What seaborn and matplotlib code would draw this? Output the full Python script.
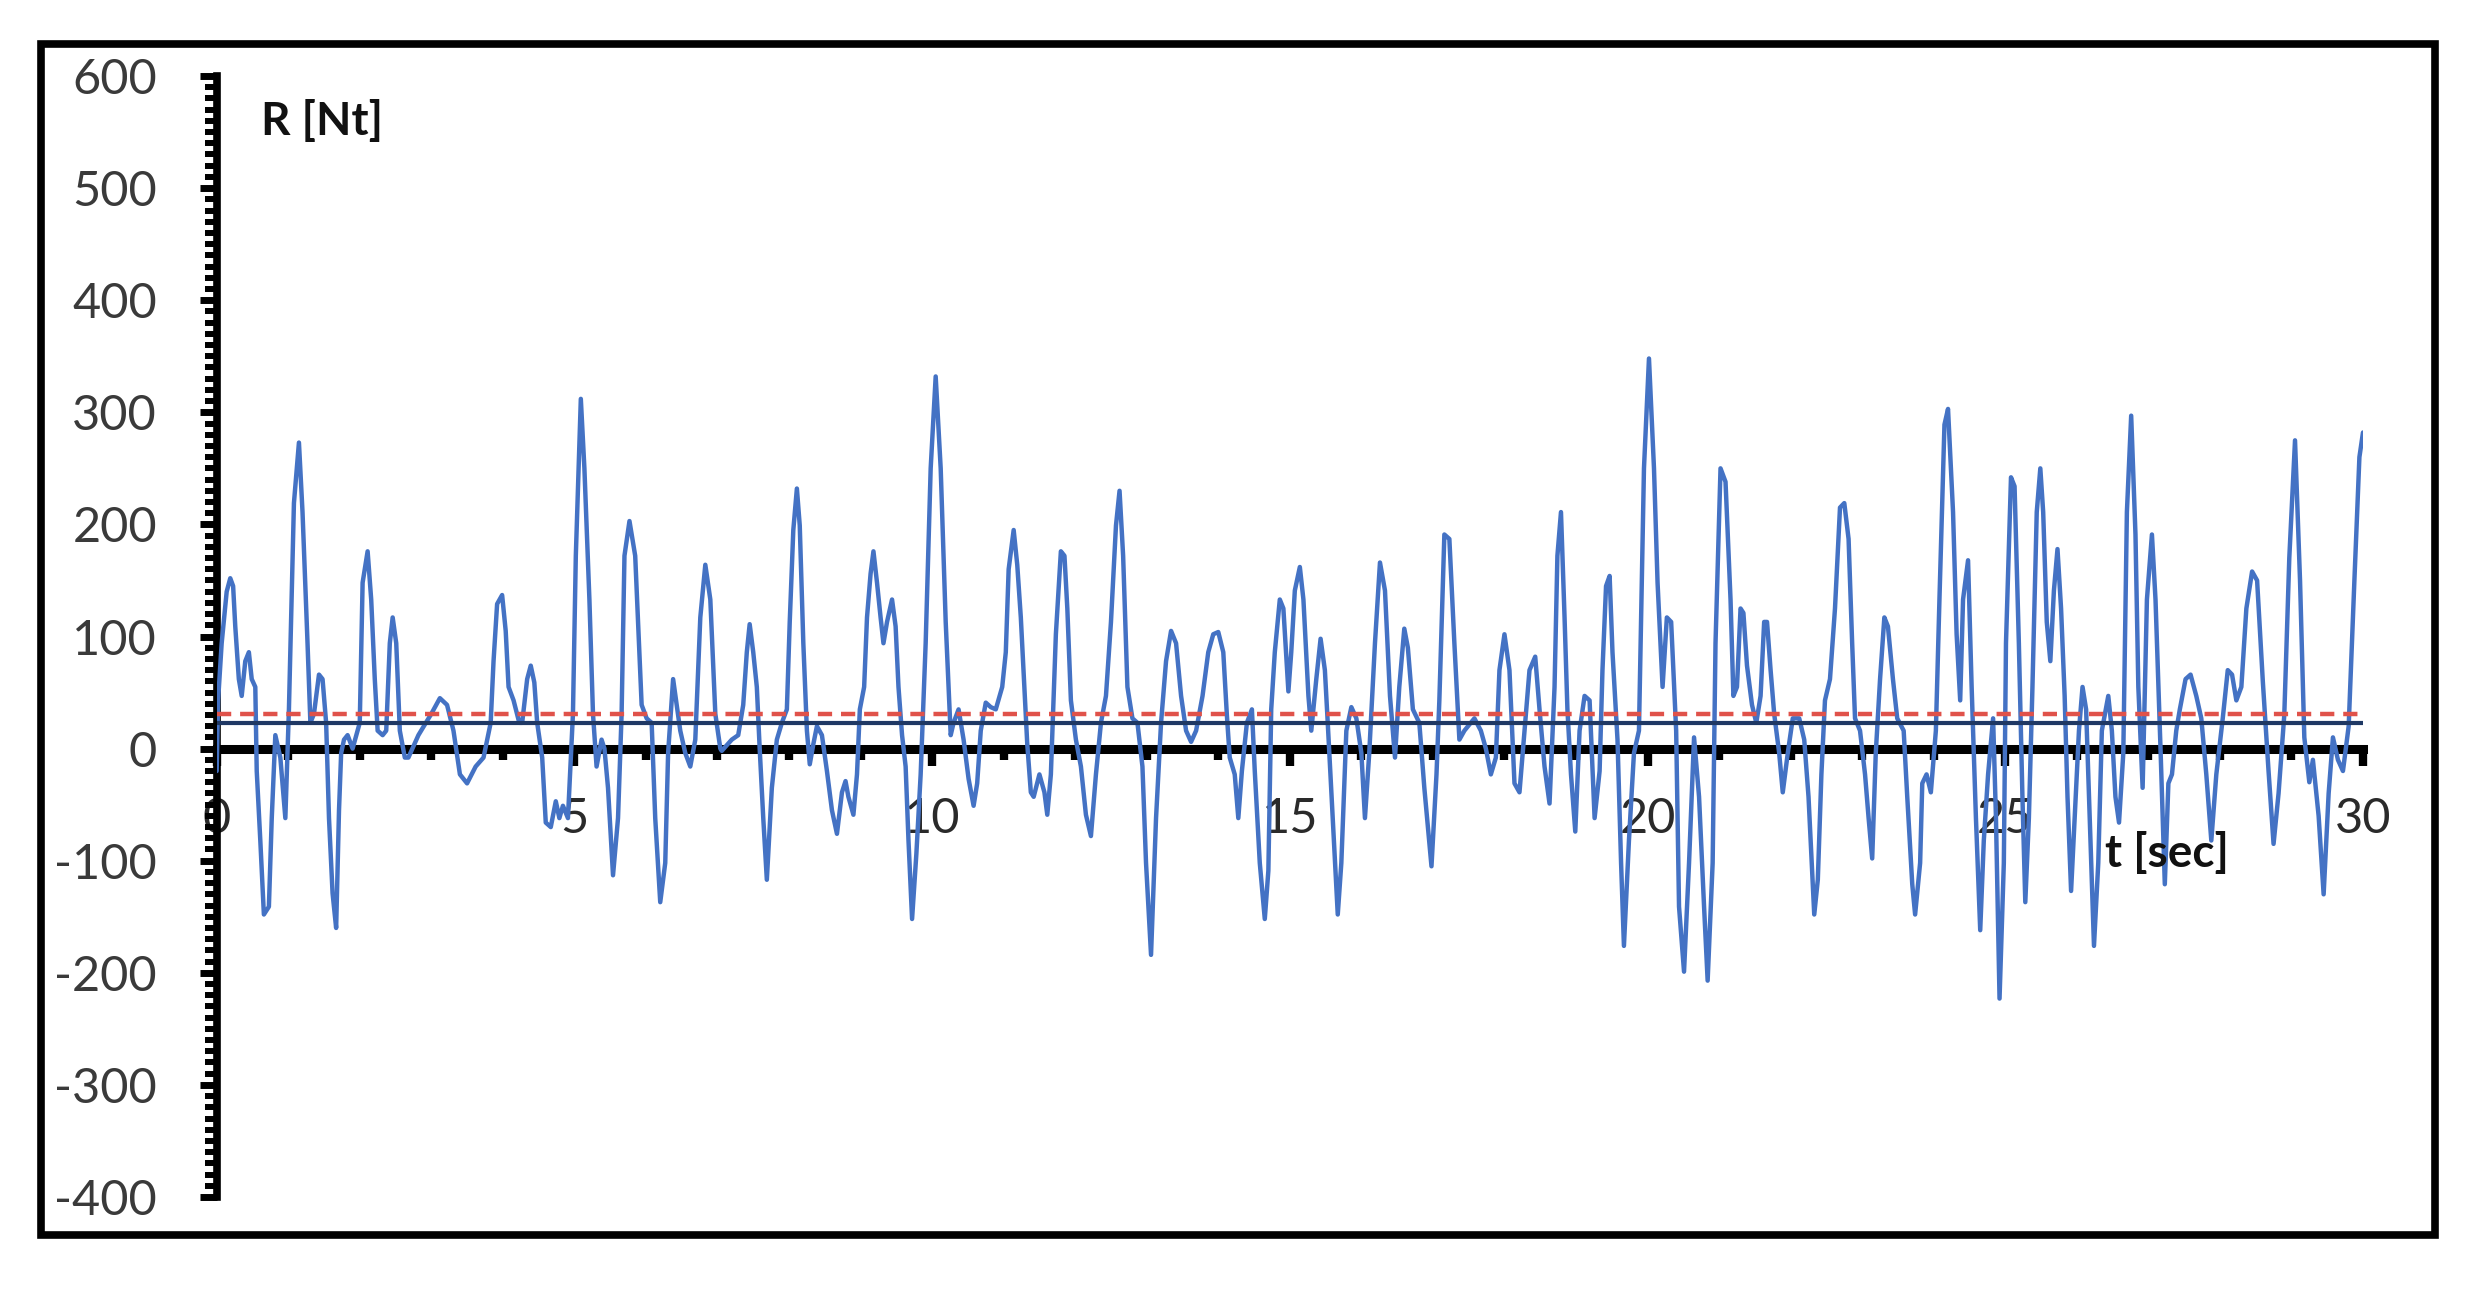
import pandas as pd
import seaborn as sns
import matplotlib.pyplot as plt
from matplotlib.patches import Rectangle
from matplotlib.ticker import MultipleLocator

# time [sec] and reaction force R [Nt]
time_a = [0.00, 0.02, 0.07, 0.14, 0.19, 0.23, 0.26, 0.31, 0.35, 0.40,
          0.45, 0.49, 0.54, 0.56, 0.61, 0.66, 0.73, 0.77, 0.82, 0.89,
          0.96, 1.01, 1.08, 1.15, 1.20, 1.27, 1.31, 1.36, 1.43, 1.48,
          1.53, 1.57, 1.62, 1.67, 1.71, 1.74, 1.78, 1.83, 1.90, 2.00,
          2.04, 2.11, 2.16, 2.21, 2.25, 2.32, 2.37, 2.42, 2.46, 2.51,
          2.56, 2.63, 2.68, 2.82, 3.00, 3.12, 3.22, 3.31, 3.40, 3.50,
          3.62, 3.73, 3.83, 3.87, 3.92, 3.99, 4.04, 4.08, 4.15, 4.23,
          4.27, 4.34, 4.39, 4.44, 4.48, 4.55, 4.60, 4.67, 4.74, 4.79,
          4.84, 4.91, 4.98, 5.02, 5.09, 5.14, 5.21, 5.26, 5.31, 5.38,
          5.42, 5.47, 5.54, 5.61, 5.66, 5.70, 5.77, 5.85, 5.89, 5.94,
          6.01, 6.08, 6.13, 6.20, 6.27, 6.31, 6.38, 6.43, 6.48, 6.55,
          6.62, 6.69, 6.76, 6.83, 6.90, 6.97, 7.04]
force_a = [-20, 43, 94, 140, 152, 145, 109, 62, 47, 78,
           86, 62, 55, -20, -82, -148, -141, -62, 12, -8,
           -62, 35, 219, 273, 211, 94, 23, 31, 66, 62,
           23, -62, -129, -160, -55, -4, 8, 12, 0, 23,
           148, 176, 133, 62, 16, 12, 16, 94, 117, 94,
           16, -8, -8, 12, 31, 45, 39, 16, -23, -31,
           -16, -8, 23, 78, 129, 137, 105, 55, 43, 23,
           23, 62, 74, 59, 23, -8, -66, -70, -47, -62,
           -51, -62, 31, 172, 312, 250, 133, 31, -16, 8,
           0, -35, -113, -62, 31, 172, 203, 172, 113, 39,
           27, 23, -62, -137, -102, -4, 62, 39, 16, -4,
           -16, 8, 117, 164, 133, 31, 0]

time_b = [7.06, 7.20, 7.29, 7.36, 7.41, 7.45, 7.50, 7.55, 7.59, 7.64,
          7.69, 7.76, 7.83, 7.90, 7.97, 8.01, 8.06, 8.11, 8.15, 8.20,
          8.25, 8.29, 8.34, 8.39, 8.46, 8.53, 8.60, 8.67, 8.74, 8.79,
          8.83, 8.90, 8.95, 8.99, 9.05, 9.09, 9.14, 9.18, 9.23, 9.28,
          9.32, 9.37, 9.44, 9.49, 9.53, 9.58, 9.63, 9.67, 9.72, 9.78,
          9.84, 9.91, 9.98, 10.05, 10.12, 10.19, 10.26, 10.30, 10.37, 10.44,
          10.51, 10.58, 10.63, 10.68, 10.75, 10.82, 10.89, 10.98, 11.03, 11.07,
          11.14, 11.19, 11.24, 11.29, 11.33, 11.38, 11.42, 11.50, 11.57, 11.61,
          11.66, 11.73, 11.80, 11.85, 11.89, 11.94, 12.01, 12.08, 12.15, 12.22,
          12.29, 12.36, 12.43, 12.50, 12.57, 12.62, 12.67, 12.73, 12.80, 12.87,
          12.94, 12.99, 13.06, 13.13, 13.20, 13.27, 13.34, 13.41, 13.48, 13.55,
          13.62, 13.69, 13.78, 13.86, 13.93, 14.00, 14.07, 14.12]
force_b = [-2, 8, 12, 39, 86, 111, 86, 55, 0, -62,
           -117, -35, 8, 23, 35, 113, 195, 232, 199, 94,
           16, -14, 4, 20, 12, -20, -55, -76, -39, -29,
           -43, -59, -23, 35, 55, 117, 156, 176, 148, 117,
           94, 113, 133, 109, 55, 12, -16, -82, -152, -94,
           -23, 94, 250, 332, 250, 113, 12, 23, 35, 8,
           -27, -51, -31, 16, 41, 37, 35, 55, 86, 160,
           195, 164, 117, 55, 4, -39, -43, -23, -39, -59,
           -23, 102, 176, 172, 125, 43, 8, -16, -59, -78,
           -23, 23, 47, 113, 199, 230, 172, 55, 27, 23,
           -16, -102, -184, -62, 23, 78, 105, 94, 47, 16,
           6, 16, 47, 86, 102, 104, 86, 30]

time_c = [14.16, 14.23, 14.28, 14.33, 14.40, 14.47, 14.51, 14.58, 14.65, 14.70,
          14.74, 14.79, 14.86, 14.91, 14.98, 15.02, 15.07, 15.14, 15.19, 15.26,
          15.30, 15.37, 15.43, 15.49, 15.53, 15.60, 15.67, 15.72, 15.79, 15.86,
          15.93, 16.00, 16.05, 16.11, 16.19, 16.26, 16.33, 16.40, 16.47, 16.53,
          16.60, 16.65, 16.72, 16.81, 16.88, 16.98, 17.05, 17.09, 17.16, 17.23,
          17.30, 17.37, 17.44, 17.58, 17.67, 17.74, 17.81, 17.88, 17.93, 18.00,
          18.07, 18.14, 18.21, 18.28, 18.35, 18.43, 18.49, 18.56, 18.63, 18.70,
          18.74, 18.79, 18.84, 18.88, 18.93, 18.99, 19.05, 19.12, 19.19, 19.26,
          19.33, 19.37, 19.42, 19.47, 19.51, 19.58, 19.63, 19.67, 19.74, 19.81,
          19.88, 19.95, 20.02, 20.09, 20.14, 20.21, 20.27, 20.33, 20.40, 20.44,
          20.51, 20.58, 20.65, 20.72, 20.79, 20.84, 20.91, 20.95, 21.02, 21.09]
force_c = [-8, -23, -62, -20, 23, 35, -20, -102, -152, -109,
           35, 86, 133, 125, 51, 86, 141, 162, 133, 47,
           16, 62, 98, 70, 23, -62, -148, -102, 16, 37,
           27, -4, -62, -4, 94, 166, 141, 47, -8, 55,
           107, 90, 35, 23, -35, -105, -23, 43, 191, 187,
           94, 8, 16, 27, 16, 0, -23, -8, 70, 102,
           70, -31, -39, 16, 70, 82, 35, -16, -49, 55,
           172, 211, 117, 35, -23, -74, 16, 47, 43, -62,
           -20, 70, 145, 154, 86, 8, -102, -176, -82, -4,
           16, 250, 348, 250, 148, 55, 117, 113, 16, -141,
           -199, -102, 10, -43, -141, -207, -102, 94, 250, 238]

time_d = [21.16, 21.20, 21.25, 21.30, 21.34, 21.39, 21.46, 21.52, 21.58, 21.63,
          21.67, 21.72, 21.77, 21.84, 21.89, 21.96, 22.03, 22.12, 22.19, 22.25,
          22.33, 22.38, 22.43, 22.48, 22.55, 22.62, 22.69, 22.75, 22.81, 22.86,
          22.90, 22.97, 23.04, 23.09, 23.14, 23.19, 23.25, 23.31, 23.36, 23.43,
          23.49, 23.58, 23.63, 23.70, 23.74, 23.81, 23.84, 23.90, 23.96, 24.03,
          24.08, 24.15, 24.20, 24.27, 24.32, 24.37, 24.41, 24.48, 24.53, 24.59,
          24.65, 24.70, 24.76, 24.83, 24.87, 24.92, 24.98, 25.01, 25.08, 25.13,
          25.19, 25.24, 25.28, 25.33, 25.38, 25.44, 25.49, 25.53, 25.58, 25.63,
          25.68, 25.73, 25.78, 25.83, 25.87, 25.92, 25.97, 26.03, 26.08, 26.13,
          26.18, 26.24, 26.30, 26.35, 26.44, 26.49, 26.54, 26.59, 26.65, 26.70,
          26.76, 26.82, 26.86, 26.92, 26.98, 27.05, 27.10, 27.17, 27.23, 27.28,
          27.33, 27.39, 27.44, 27.52, 27.59, 27.67, 27.74, 27.81, 27.88, 27.95,
          28.04, 28.11, 28.17, 28.23, 28.30, 28.37]
force_d = [133, 47, 55, 125, 121, 74, 39, 23, 47, 113,
           113, 70, 31, -4, -39, -4, 27, 27, 8, -43,
           -148, -117, -23, 43, 62, 125, 215, 219, 187, 94,
           27, 16, -23, -62, -98, -4, 62, 117, 109, 62,
           27, 16, -43, -121, -148, -102, -31, -23, -39, 16,
           133, 289, 303, 211, 102, 43, 133, 168, 55, -62,
           -162, -82, -23, 27, -62, -223, -102, 94, 242, 234,
           94, -43, -137, -62, 55, 211, 250, 211, 113, 78,
           141, 178, 125, 47, -43, -127, -62, 16, 55, 35,
           -62, -176, -102, 16, 47, 16, -43, -66, -4, 211,
           297, 191, 55, -35, 133, 191, 133, 0, -121, -31,
           -23, 16, 35, 62, 66, 47, 27, -23, -82, -23,
           27, 70, 66, 43, 55, 125]

time_e = [28.45, 28.52, 28.60, 28.68, 28.75, 28.82, 28.90, 28.97, 29.05, 29.12,
          29.18, 29.25, 29.30, 29.38, 29.45, 29.52, 29.58, 29.65, 29.72, 29.80,
          29.88, 29.95, 30.00]
force_e = [158, 150, 60, -20, -85, -40, 30, 170, 275, 150,
           10, -30, -10, -60, -130, -40, 10, -10, -20, 20,
           150, 260, 282]

mean_level = 23      # solid dark line
dashed_level = 31    # red dashed line

x_ticks = [0, 5, 10, 15, 20, 25, 30]
y_ticks = [-400, -300, -200, -100, 0, 100, 200, 300, 400, 500, 600]

df = pd.DataFrame({
    't': time_a + time_b + time_c + time_d + time_e,
    'R': force_a + force_b + force_c + force_d + force_e,
})

sns.set_style("white")
plt.rcParams['font.family'] = ['Lato', 'DejaVu Sans']
plt.rcParams['axes.unicode_minus'] = False

fig = plt.figure(figsize=(24.79, 12.97), dpi=100)
ax = fig.add_axes([0.0874, 0.0771, 0.8658, 0.8643])

sns.lineplot(data=df, x='t', y='R', ax=ax, color='#4472C4', linewidth=3.2,
             estimator=None, sort=False, zorder=3)
ax.axhline(dashed_level, color='#E0524A', linewidth=3.2, linestyle=(0, (3.2, 2.0)), zorder=4)
ax.axhline(mean_level, color='#1F3864', linewidth=3.0, zorder=4)

ax.set_xlim(0, 30)
ax.set_ylim(-400, 600)
ax.set_xticks(x_ticks)
ax.set_yticks(y_ticks)
ax.xaxis.set_minor_locator(MultipleLocator(1))
ax.yaxis.set_minor_locator(MultipleLocator(10))
ax.set_xlabel('')
ax.set_ylabel('')

for side in ['top', 'right']:
    ax.spines[side].set_visible(False)
ax.spines['bottom'].set_position(('data', 0))
ax.spines['bottom'].set_linewidth(6.5)
ax.spines['left'].set_linewidth(5.5)
ax.spines['bottom'].set_color('black')
ax.spines['left'].set_color('black')

ax.tick_params(axis='both', which='both', bottom=True, left=True, top=False, right=False)
ax.tick_params(axis='y', which='major', direction='out', length=12, width=5,
               color='black', labelsize=35, labelcolor='#3a3a3a', pad=31)
ax.tick_params(axis='y', which='minor', direction='out', length=9, width=4.3, color='black')
ax.tick_params(axis='x', which='major', direction='out', length=12, width=6,
               color='black', labelsize=35, labelcolor='#2a2a2a', pad=23)
ax.tick_params(axis='x', which='minor', direction='out', length=8, width=6, color='black')

ax.text(0.62, 559, 'R [Nt]', fontsize=33, fontweight='bold', ha='left', va='center', color='#111111')
ax.text(26.4, -94, 't [sec]', fontsize=33, fontweight='bold', ha='left', va='center', color='#111111')

fig.patches.append(Rectangle((0.0165, 0.0478), 0.9657, 0.9183, transform=fig.transFigure,
                             fill=False, linewidth=5.5, edgecolor='black'))

fig.savefig('out.png', dpi=100)
